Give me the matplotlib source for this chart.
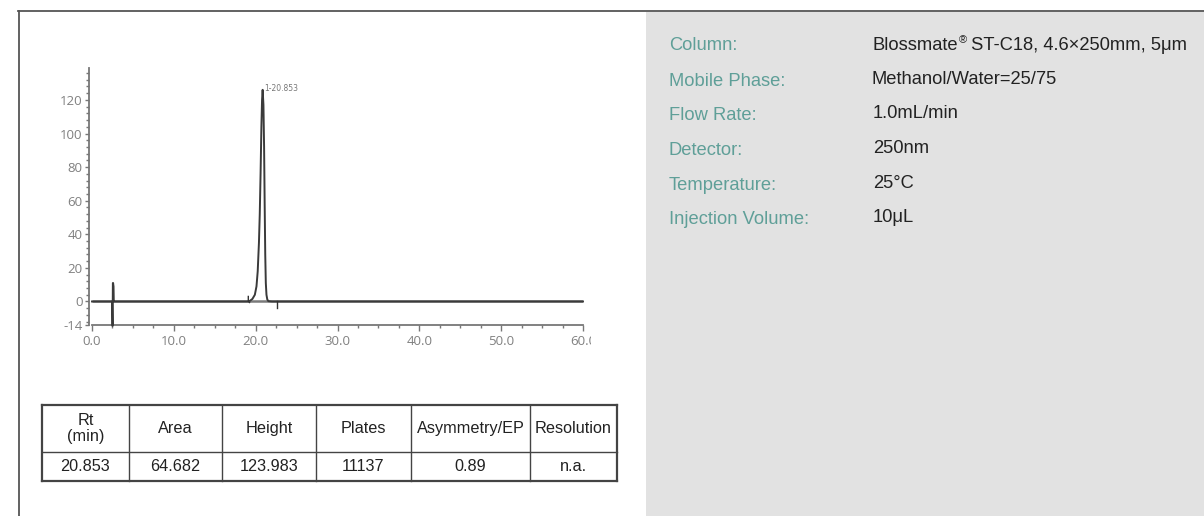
import matplotlib
matplotlib.use("Agg")
import matplotlib.pyplot as plt
from matplotlib.lines import Line2D
from matplotlib.patches import Rectangle
from matplotlib.text import Annotation
from matplotlib.transforms import Bbox
from matplotlib.ticker import MultipleLocator, FormatStrFormatter

plt.rcParams["axes.unicode_minus"] = False

# ---------------- data ----------------
# chromatogram trace (time in min, signal)
trace_time = [0.0, 2.45, 2.50, 2.52, 2.55, 2.58, 2.60, 2.63, 2.66, 2.70, 2.80,
              19.0, 19.3, 19.6, 19.9, 20.1, 20.25, 20.4, 20.5, 20.6, 20.7, 20.78,
              20.853, 20.95, 21.03, 21.1, 21.17, 21.24, 21.32, 21.42, 21.55, 22.0, 60.0]
trace_signal = [0.0, 0.0, -14.5, -14.5, 11.0, 11.0, 10.0, 9.0, 0.5, 0.0, 0.0,
                0.0, 0.4, 1.5, 4.0, 9.0, 18.0, 35.0, 52.0, 76.0, 104.0, 120.0,
                126.0, 117.0, 92.0, 58.0, 28.0, 11.0, 4.0, 1.2, 0.2, 0.0, 0.0]
baseline_time = [0.0, 60.0]
baseline_signal = [0.0, 0.0]
peak_start_time = [19.1, 19.1, 19.25]
peak_start_signal = [3.0, 0.0, -0.6]
peak_end_time = [22.6, 22.6]
peak_end_signal = [0.0, -4.0]
peak_label = "1-20.853"
peak_rt = 20.853
peak_top = 126.0

x_ticks = [0, 10, 20, 30, 40, 50, 60]
y_ticks = [-14, 0, 20, 40, 60, 80, 100, 120]

table_header = ["Rt\n(min)", "Area", "Height", "Plates", "Asymmetry/EP", "Resolution"]
table_values = ["20.853", "64.682", "123.983", "11137", "0.89", "n.a."]

cond_labels = ["Column:", "Mobile Phase:", "Flow Rate:", "Detector:",
               "Temperature:", "Injection Volume:"]
column_brand = "Blossmate"
column_mark = "\u00ae"
column_rest = " ST-C18, 4.6\u00d7250mm, 5\u03bcm"
cond_values = [None, "Methanol/Water=25/75",
               "1.0mL/min", "250nm", "25\u00b0C", "10\u03bcL"]

# ---------------- figure ----------------
W, H = 1204, 516
fig = plt.figure(figsize=(W / 100, H / 100), dpi=100)
fig.patch.set_facecolor("white")


def fx(x):
    return x / W


def fy(y):
    return 1 - y / H


# grey panel
fig.add_artist(Rectangle((fx(646), 0), 1 - fx(646), fy(12), transform=fig.transFigure,
                         facecolor="#e2e2e2", edgecolor="none", zorder=0))
# border lines
fig.add_artist(Line2D([fx(18), 1], [fy(11), fy(11)], transform=fig.transFigure,
                      color="#555555", lw=1.3))
fig.add_artist(Line2D([fx(19), fx(19)], [fy(11), 0], transform=fig.transFigure,
                      color="#555555", lw=1.3))

# ---------------- chromatogram ----------------
ax = fig.add_axes([fx(92), fy(325), fx(583) - fx(92), fy(68) - fy(325)])
ax.set_xlim(0, 60)
ax.set_ylim(-14, 139)
ax.plot(baseline_time, baseline_signal, color="#7a7a7a", lw=1.8, solid_capstyle="butt", zorder=2)
ax.plot(trace_time, trace_signal, color="#3a3a3a", lw=1.4, zorder=3, clip_on=False)
ax.plot(peak_start_time, peak_start_signal, color="#333333", lw=1.0, zorder=3)
ax.plot(peak_end_time, peak_end_signal, color="#333333", lw=1.0, zorder=3)
ax.text(peak_rt + 0.2, peak_top + 1, peak_label, fontsize=5.5, color="#777777",
        va="center", ha="left", family="DejaVu Sans")

for s in ["top", "right"]:
    ax.spines[s].set_visible(False)
for s in ["left", "bottom"]:
    ax.spines[s].set_color("#777777")
    ax.spines[s].set_linewidth(1.3)
ax.spines["left"].set_position(("outward", 2))

ax.set_xticks(x_ticks)
ax.set_yticks(y_ticks)
ax.xaxis.set_major_formatter(FormatStrFormatter("%.1f"))
ax.xaxis.set_minor_locator(MultipleLocator(2.5))
ax.yaxis.set_minor_locator(MultipleLocator(4))
ax.tick_params(axis="both", which="major", length=4, width=1, color="#777777",
               labelcolor="#808080", labelsize=9.5)
ax.tick_params(axis="both", which="minor", length=2, width=1, color="#777777")
ax.tick_params(axis="x", pad=3)
ax.tick_params(axis="y", pad=1.8, length=3)
for lbl in ax.get_xticklabels() + ax.get_yticklabels():
    lbl.set_family("Open Sans")
# last x label is cut off at the right edge in the reference
clip = Bbox([[0, 0], [591, H]])
xl = ax.get_xticklabels()
xl[-1].set_clip_on(True)
xl[-1].set_clip_box(clip)

# ---------------- table ----------------
col_edges = [42, 129, 222, 316, 411, 530, 617]
row_edges = [405, 452, 481]
tcolor = "#444444"
for x in col_edges:
    lw = 1.6 if x in (col_edges[0], col_edges[-1]) else 1.0
    fig.add_artist(Line2D([fx(x), fx(x)], [fy(row_edges[0]), fy(row_edges[-1])],
                          transform=fig.transFigure, color=tcolor, lw=lw))
for y in row_edges:
    lw = 1.6 if y in (row_edges[0], row_edges[-1]) else 1.0
    fig.add_artist(Line2D([fx(col_edges[0]), fx(col_edges[-1])], [fy(y), fy(y)],
                          transform=fig.transFigure, color=tcolor, lw=lw))
for i in range(len(table_header)):
    cx = (col_edges[i] + col_edges[i + 1]) / 2
    fig.text(fx(cx), fy((row_edges[0] + row_edges[1]) / 2), table_header[i],
             ha="center", va="center", fontsize=11.7, color="#222222",
             family="Liberation Sans", linespacing=1.08)
    fig.text(fx(cx), fy((row_edges[1] + row_edges[2]) / 2), table_values[i],
             ha="center", va="center", fontsize=11.7, color="#222222",
             family="Liberation Sans")

# ---------------- conditions ----------------
label_y = [46, 81.5, 116, 150.5, 185, 219.5]
value_y = [46, 80, 113.5, 148.5, 183.5, 217.5]
value_x = [873, 871, 873, 873, 873, 873]
fs = 13.2
for i in range(len(cond_labels)):
    fig.text(fx(669), fy(label_y[i]), cond_labels[i], ha="left", va="center",
             fontsize=fs, color="#5f9f98", family="Liberation Sans")
    if cond_values[i] is not None:
        fig.text(fx(value_x[i]), fy(value_y[i]), cond_values[i], ha="left", va="center",
                 fontsize=fs, color="#222222", family="Liberation Sans")

# column value with superscript registered mark
t1 = fig.text(fx(value_x[0]), fy(value_y[0]), column_brand, ha="left", va="center",
              fontsize=fs, color="#222222", family="Liberation Sans")
t2 = Annotation(column_mark, xy=(1, 1), xycoords=t1, xytext=(0.5, 1.8),
                textcoords="offset points", ha="left", va="top",
                fontsize=8, color="#222222", family="Liberation Sans")
fig.add_artist(t2)
t3 = Annotation(column_rest, xy=(1, 0), xycoords=(t2, t1), xytext=(-1, 0),
                textcoords="offset points", ha="left", va="bottom",
                fontsize=fs, color="#222222", family="Liberation Sans")
fig.add_artist(t3)

fig.savefig("out.png", dpi=100, facecolor="white")
